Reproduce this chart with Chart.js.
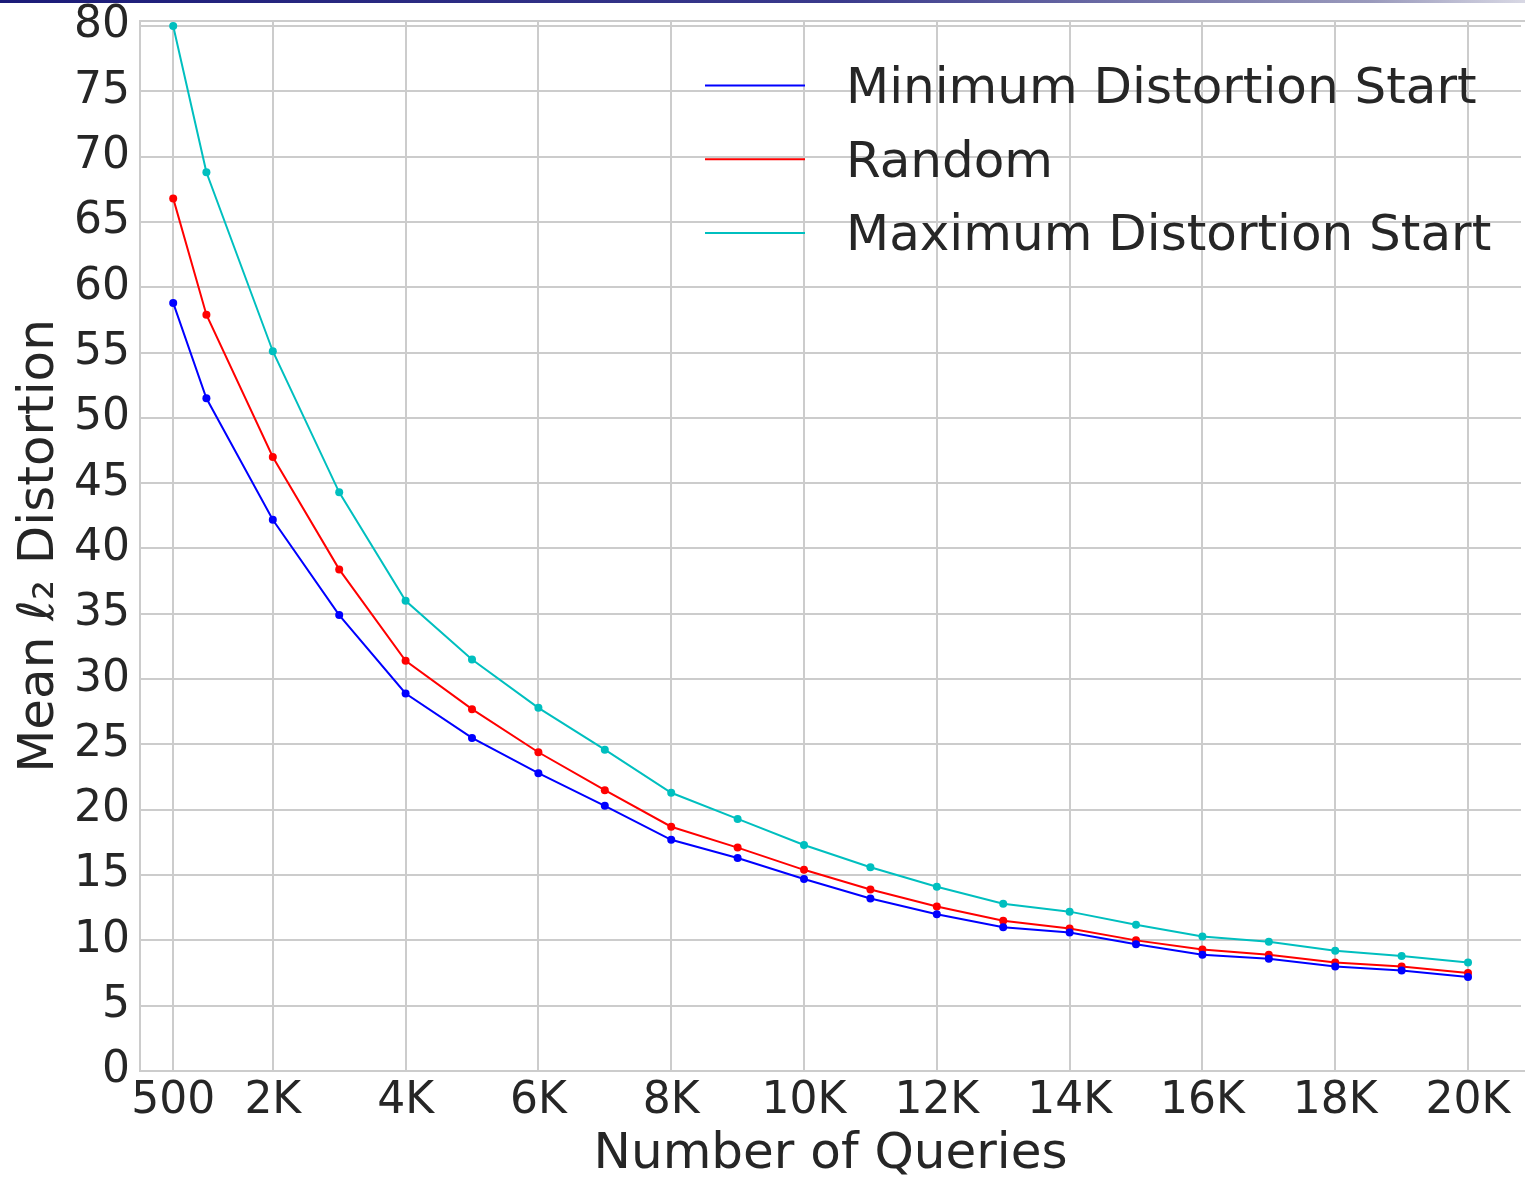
<!DOCTYPE html>
<html>
<head>
<meta charset="utf-8">
<title>Mean l2 distortion vs. queries</title>
<script src="https://cdn.jsdelivr.net/npm/chart.js@4.4.1/dist/chart.umd.min.js"></script>
<style>
  html, body { margin: 0; padding: 0; background: #fff; }
  #topbar {
    position: absolute; left: 0; top: 0; width: 1525px; height: 3px;
    background: linear-gradient(to right, #1b1b78, #3a3a8c 55%, #9a9abc 90%, #d8d8e4);
  }
  #wrap { position: relative; width: 1525px; height: 1178px; }
</style>
</head>
<body>
<div id="wrap">
  <canvas id="chart"></canvas>
  <div id="topbar"></div>
</div>
<script>
  // query budgets on the x axis
  const queries = [500, 1000, 2000, 3000, 4000, 5000, 6000, 7000, 8000, 9000, 10000,
    11000, 12000, 13000, 14000, 15000, 16000, 17000, 18000, 19000, 20000];

  // mean l2 distortion per starting strategy
  const minStart = [58.8, 51.5, 42.2, 34.9, 28.9, 25.5, 22.8, 20.3, 17.7, 16.3, 14.7,
    13.2, 12.0, 11.0, 10.6, 9.7, 8.9, 8.6, 8.0, 7.7, 7.2];
  const randomStart = [66.8, 57.9, 47.0, 38.4, 31.4, 27.7, 24.4, 21.5, 18.7, 17.1, 15.4,
    13.9, 12.6, 11.5, 10.9, 10.0, 9.3, 8.9, 8.3, 8.0, 7.5];
  const maxStart = [80.0, 68.8, 55.1, 44.3, 36.0, 31.5, 27.8, 24.6, 21.3, 19.3, 17.3,
    15.6, 14.1, 12.8, 12.2, 11.2, 10.3, 9.9, 9.2, 8.8, 8.3];

  const seriesLabels = ['Minimum Distortion Start', 'Random', 'Maximum Distortion Start'];

  // axis ticks
  const xTickValues = [500, 2000, 4000, 6000, 8000, 10000, 12000, 14000, 16000, 18000, 20000];
  const xTickLabels = ['500', '2K', '4K', '6K', '8K', '10K', '12K', '14K', '16K', '18K', '20K'];
  const yTickValues = [0, 5, 10, 15, 20, 25, 30, 35, 40, 45, 50, 55, 60, 65, 70, 75, 80];

  const textColor = '#262626';
  const gridColor = '#cccccc';
  const fontFamily = '"DejaVu Sans", sans-serif';

  const toPoints = vals => queries.map((q, i) => ({ x: q, y: vals[i] }));

  const makeSeries = (label, vals, color) => ({
    label,
    data: toPoints(vals),
    borderColor: color,
    backgroundColor: color,
    borderWidth: 2,
    pointRadius: 4,
    pointBorderWidth: 0,
    pointBackgroundColor: color,
    tension: 0,
    clip: false
  });

  // axes frame drawn under the data
  const frame = {
    id: 'frame',
    beforeDatasetsDraw(chart) {
      const { ctx, chartArea: a } = chart;
      ctx.save();
      ctx.strokeStyle = gridColor;
      ctx.lineWidth = 2;
      ctx.strokeRect(a.left, a.top, a.right - a.left + 10, a.bottom - a.top);
      ctx.restore();
    }
  };

  // line-only legend, no box behind it
  const lineLegend = {
    id: 'lineLegend',
    afterDatasetsDraw(chart) {
      const ctx = chart.ctx;
      chart.data.datasets.forEach((ds, i) => {
        const y = 85.5 + i * 73.7;
        ctx.save();
        ctx.strokeStyle = ds.borderColor;
        ctx.lineWidth = 2;
        ctx.beginPath();
        ctx.moveTo(705, y);
        ctx.lineTo(805, y);
        ctx.stroke();
        ctx.fillStyle = textColor;
        ctx.font = '50px ' + fontFamily;
        ctx.textBaseline = 'alphabetic';
        ctx.fillText(ds.label, 846, y + 17.5);
        ctx.restore();
      });
    }
  };

  new Chart(document.getElementById('chart'), {
    type: 'line',
    data: {
      datasets: [
        makeSeries(seriesLabels[0], minStart, '#0000ff'),
        makeSeries(seriesLabels[1], randomStart, '#ff0000'),
        makeSeries(seriesLabels[2], maxStart, '#00bfbf')
      ]
    },
    options: {
      responsive: true,
      maintainAspectRatio: false,
      animation: false,
      events: [],
      layout: { padding: { top: 21, right: 0, left: 0, bottom: 0 } },
      plugins: { legend: { display: false }, tooltip: { enabled: false } },
      scales: {
        x: {
          type: 'linear',
          min: 0,
          max: 20798,
          afterBuildTicks: s => { s.ticks = xTickValues.map(v => ({ value: v })); },
          afterFit: s => { s.height = 107; },
          ticks: {
            autoSkip: false,
            maxRotation: 0,
            padding: 4,
            color: textColor,
            font: { family: fontFamily, size: 44 },
            callback: v => xTickLabels[xTickValues.indexOf(v)]
          },
          grid: { color: gridColor, lineWidth: 2, drawTicks: false },
          border: { display: false },
          title: {
            display: true,
            text: 'Number of Queries',
            color: textColor,
            font: { family: fontFamily, size: 50, lineHeight: 0.9 },
            padding: { top: 0, bottom: 0 }
          }
        },
        y: {
          min: 0,
          max: 80.38,
          afterBuildTicks: s => { s.ticks = yTickValues.map(v => ({ value: v })); },
          afterFit: s => { s.width = 140; },
          ticks: {
            padding: 10,
            color: textColor,
            font: { family: fontFamily, size: 44, lineHeight: 0.4 }
          },
          grid: { color: gridColor, lineWidth: 2, drawTicks: false },
          border: { display: false },
          title: {
            display: true,
            text: 'Mean ℓ₂ Distortion',
            color: textColor,
            font: { family: fontFamily, size: 50 },
            padding: { top: 10, bottom: 0 }
          }
        }
      }
    },
    plugins: [frame, lineLegend]
  });
</script>
</body>
</html>
